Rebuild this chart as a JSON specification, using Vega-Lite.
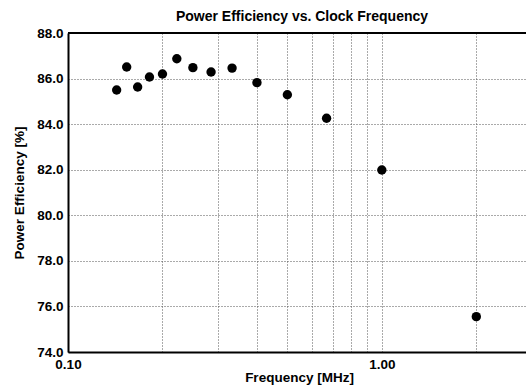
{
  "$schema": "https://vega.github.io/schema/vega-lite/v6.json",
  "width": 458,
  "height": 319,
  "autosize": {"type": "none"},
  "padding": {"left": 68, "top": 33, "right": 0, "bottom": 33},
  "background": "white",
  "config": {
    "view": {"stroke": null},
    "font": "Liberation Sans"
  },
  "title": {
    "text": "Power Efficiency vs. Clock Frequency",
    "font": "Liberation Sans",
    "fontSize": 14,
    "fontWeight": "bold",
    "color": "black",
    "offset": 2,
    "dx": 5
  },
  "data": {
    "values": [
      {"freq": 0.1429, "eff": 85.50},
      {"freq": 0.1538, "eff": 86.51},
      {"freq": 0.1667, "eff": 85.63},
      {"freq": 0.1818, "eff": 86.07},
      {"freq": 0.2, "eff": 86.20},
      {"freq": 0.2222, "eff": 86.87},
      {"freq": 0.25, "eff": 86.48},
      {"freq": 0.2857, "eff": 86.29},
      {"freq": 0.3333, "eff": 86.46},
      {"freq": 0.4, "eff": 85.82},
      {"freq": 0.5, "eff": 85.29},
      {"freq": 0.6667, "eff": 84.26},
      {"freq": 1.0, "eff": 81.99},
      {"freq": 2.0, "eff": 75.55}
    ]
  },
  "layer": [
    {
      "mark": {"type": "point", "filled": true, "color": "black", "opacity": 1, "size": 88},
      "encoding": {
        "x": {
          "field": "freq",
          "type": "quantitative",
          "scale": {"type": "log", "domain": [0.1, 2.88], "nice": false},
          "axis": {
            "title": "Frequency [MHz]",
            "titleFont": "Liberation Sans",
            "titleFontSize": 13.5,
            "titleFontWeight": "bold",
            "titleColor": "black",
            "titlePadding": 0,
            "titleX": 231,
            "values": [0.1, 0.2, 0.3, 0.4, 0.5, 0.6, 0.7, 0.8, 0.9, 1, 2],
            "labelExpr": "datum.value == 0.1 ? '0.10' : (datum.value == 1 ? '1.00' : '')",
            "labelFont": "Liberation Sans",
            "labelFontSize": 13.5,
            "labelFontWeight": "bold",
            "labelColor": "black",
            "labelPadding": 5,
            "labelOverlap": false,
            "labelFlush": false,
            "ticks": false,
            "domainColor": "black",
            "domainWidth": 2,
            "grid": true,
            "gridColor": "#555",
            "gridDash": [1, 2],
            "gridWidth": 1,
            "gridOpacity": 1
          }
        },
        "y": {
          "field": "eff",
          "type": "quantitative",
          "scale": {"domain": [74, 88], "nice": false, "zero": false},
          "axis": {
            "title": "Power Efficiency [%]",
            "titleFont": "Liberation Sans",
            "titleFontSize": 13.5,
            "titleFontWeight": "bold",
            "titleColor": "black",
            "titlePadding": 10,
            "values": [74, 76, 78, 80, 82, 84, 86, 88],
            "format": ".1f",
            "labelFont": "Liberation Sans",
            "labelFontSize": 13.5,
            "labelFontWeight": "bold",
            "labelColor": "black",
            "labelPadding": 5,
            "labelFlush": false,
            "ticks": false,
            "domainColor": "black",
            "domainWidth": 2,
            "grid": true,
            "gridColor": "#555",
            "gridDash": [1, 2],
            "gridWidth": 1,
            "gridOpacity": 1
          }
        }
      }
    },
    {
      "mark": {"type": "rule", "color": "black", "strokeWidth": 2},
      "encoding": {
        "y": {"datum": 88, "type": "quantitative"}
      }
    }
  ]
}
